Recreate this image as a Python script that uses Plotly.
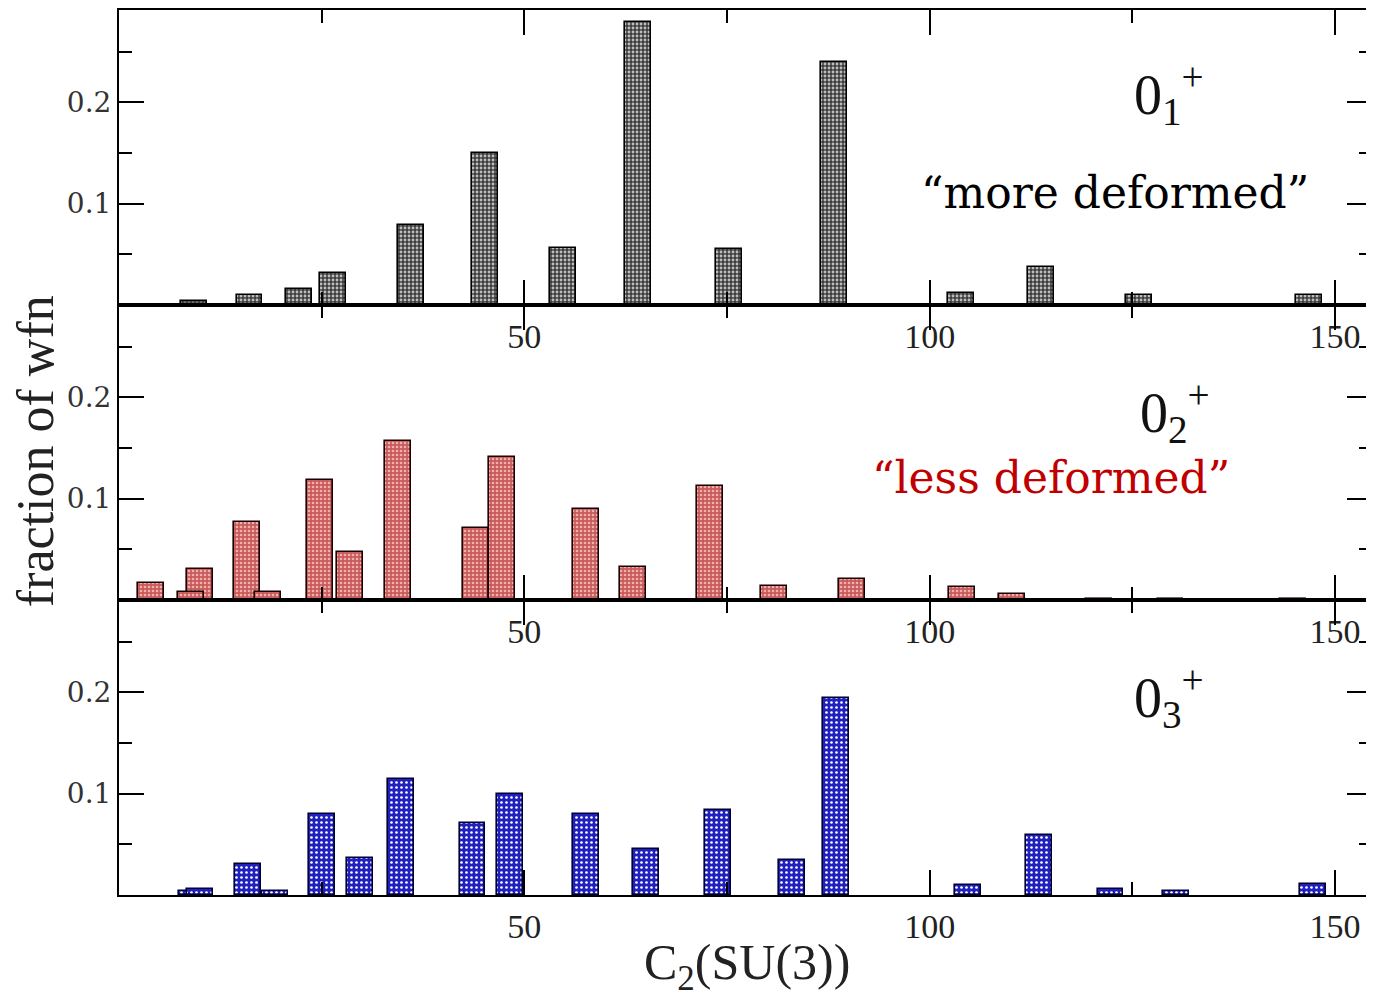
import plotly.graph_objects as go

# ---- data ----
x_p1 = [9.3, 16.1, 22.2, 26.4, 36.0, 45.1, 54.8, 64.0, 75.2, 88.2, 103.9, 113.7, 125.8, 146.8]
y_p1 = [0.004, 0.010, 0.016, 0.032, 0.079, 0.150, 0.0565, 0.279, 0.055, 0.240, 0.012, 0.037, 0.010, 0.010]

x_p2 = [3.9, 10.0, 8.9, 15.8, 18.4, 24.75, 28.55, 34.4, 44.0, 47.2, 57.55, 63.4, 72.9, 80.8, 90.4, 104.0, 110.1, 120.9, 129.7, 144.8]
y_p2 = [0.0164, 0.031, 0.008, 0.0774, 0.008, 0.118, 0.047, 0.157, 0.0712, 0.141, 0.0897, 0.0328, 0.112, 0.0141, 0.0207, 0.0124, 0.0062, 0.0012, 0.0012, 0.0012]

x_p3 = [9.0, 10.0, 15.9, 19.2, 25.0, 29.7, 34.8, 43.6, 48.2, 57.55, 65.0, 73.85, 83.0, 88.4, 104.7, 113.5, 122.3, 130.4, 147.3]
y_p3 = [0.0042, 0.0062, 0.031, 0.0042, 0.0795, 0.0368, 0.114, 0.0713, 0.100, 0.0795, 0.045, 0.0837, 0.0348, 0.194, 0.0099, 0.059, 0.0062, 0.004, 0.0105]

x_tickvals = [50, 100, 150]
x_minor = [25, 75, 125]
y_tickvals = [0.1, 0.2]
y_ticktext = ["0.1", "0.2"]
y_minor = [0.05, 0.15, 0.25]

state_labels = ["0<sub>1</sub><sup>+</sup>", "0<sub>2</sub><sup>+</sup>", "0<sub>3</sub><sup>+</sup>"]
note_more = "\u201cmore deformed\u201d"
note_less = "\u201cless deformed\u201d"

BAR_W = 3.2

# page offset of the figure (browser default body margin)
OX, OY = 8, 8
W, H = 1374 - OX, 1007 - 2 * OY
ML = 119 - OX
MR = 0
MT = 10 - OY
MB = H - (895 - OY)
PW = W - ML - MR
PH = H - MT - MB


def px(xpage):
    return (xpage - OX - ML) / PW


def py(ypage):
    return (H - MB - (ypage - OY)) / PH


fig = go.Figure()

fig.add_trace(go.Bar(
    x=x_p1, y=y_p1, width=BAR_W, xaxis="x", yaxis="y",
    marker=dict(color="#606060", line=dict(color="black", width=1.6),
                pattern=dict(shape=".", bgcolor="#3c3c3c", fgcolor="#bdbdbd",
                             size=4, solidity=0.4, fillmode="replace")),
    showlegend=False))

fig.add_trace(go.Bar(
    x=x_p2, y=y_p2, width=BAR_W, xaxis="x2", yaxis="y2",
    marker=dict(color="#cc6a6a", line=dict(color="#1a0000", width=1.6),
                pattern=dict(shape=".", bgcolor="#c85a5a", fgcolor="#efb0b0",
                             size=4, solidity=0.35, fillmode="replace")),
    showlegend=False))

fig.add_trace(go.Bar(
    x=x_p3, y=y_p3, width=BAR_W, xaxis="x3", yaxis="y3",
    marker=dict(color="#2424c0", line=dict(color="#000030", width=1.6),
                pattern=dict(shape=".", bgcolor="#2020c0", fgcolor="#ffffff",
                             size=5, solidity=0.22, fillmode="replace")),
    showlegend=False))

xr = [0, PW / 8.12]

xax = dict(range=xr, tickvals=x_tickvals, ticktext=[str(v) for v in x_tickvals],
           ticks="inside", ticklen=25, tickwidth=2, tickcolor="black",
           minor=dict(tickvals=x_minor, ticks="inside", ticklen=13, tickwidth=2, tickcolor="black"),
           showline=True, linecolor="black", linewidth=2, mirror="ticks",
           showgrid=False, zeroline=False,
           tickfont=dict(family="Liberation Serif", size=34, color="#222"))

yax = dict(range=[0, 0.291], tickvals=y_tickvals, ticktext=y_ticktext,
           ticks="inside", ticklen=25, tickwidth=2, tickcolor="black",
           minor=dict(tickvals=y_minor, ticks="inside", ticklen=13, tickwidth=2, tickcolor="black"),
           showline=True, linecolor="black", linewidth=2, mirror="ticks",
           showgrid=False, zeroline=False,
           tickfont=dict(family="DejaVu Serif", size=28, color="#333"))

layout = dict(
    width=W, height=H,
    margin=dict(l=ML, r=MR, t=MT, b=MB, pad=0),
    plot_bgcolor="white", paper_bgcolor="white",
    bargap=0,
    xaxis=dict(xax, anchor="y", domain=[0, 1]),
    xaxis2=dict(xax, anchor="y2", domain=[0, 1]),
    xaxis3=dict(xax, anchor="y3", domain=[0, 1]),
    yaxis=dict(yax, anchor="x", domain=[2 / 3, 1]),
    yaxis2=dict(yax, anchor="x2", domain=[1 / 3, 2 / 3]),
    yaxis3=dict(yax, anchor="x3", domain=[0, 1 / 3]),
)
fig.update_layout(**layout)

annos = []
for lab, (xl, yc) in zip(state_labels, [(1134, 94), (1140, 412), (1134, 697)]):
    annos.append(dict(text=lab, x=px(xl), y=py(yc), xref="paper", yref="paper",
                      xanchor="left", yanchor="middle", showarrow=False,
                      font=dict(family="Liberation Serif", size=56, color="#111")))
annos.append(dict(text=note_more, x=px(1117), y=py(192), xref="paper", yref="paper",
                  xanchor="center", yanchor="middle", showarrow=False,
                  font=dict(family="DejaVu Serif", size=44, color="black")))
annos.append(dict(text=note_less, x=px(1052), y=py(477), xref="paper", yref="paper",
                  xanchor="center", yanchor="middle", showarrow=False,
                  font=dict(family="DejaVu Serif", size=44, color="#c00000")))
annos.append(dict(text="fraction of wfn", x=px(35), y=py(451), xref="paper", yref="paper",
                  xanchor="center", yanchor="middle", showarrow=False, textangle=-90,
                  font=dict(family="Liberation Serif", size=52, color="#222")))
annos.append(dict(text="C<sub>2</sub>(SU(3))", x=px(748), y=py(966), xref="paper", yref="paper",
                  xanchor="center", yanchor="middle", showarrow=False,
                  font=dict(family="Liberation Serif", size=50, color="#222")))
fig.update_layout(annotations=annos)

fig.write_html("out.html")
